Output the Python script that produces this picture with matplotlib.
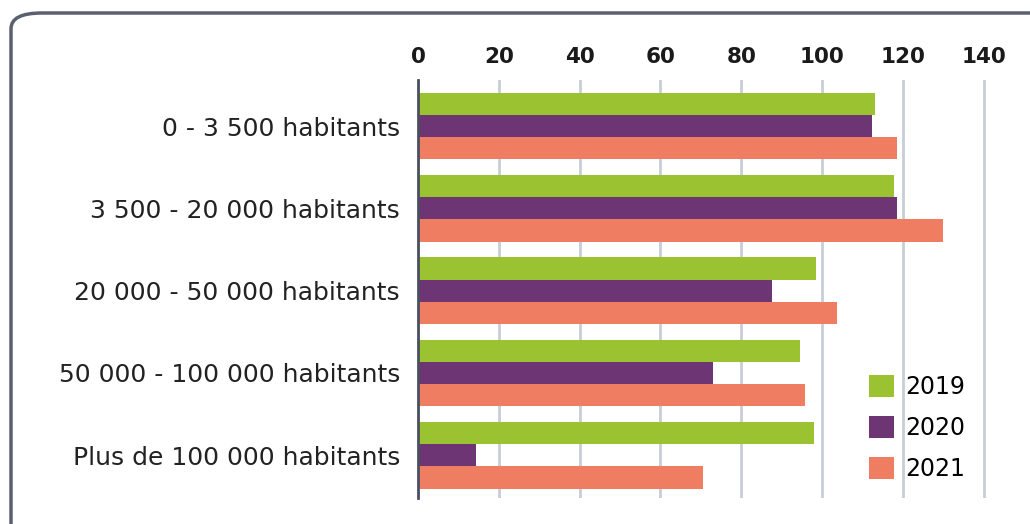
import matplotlib
matplotlib.use("Agg")
import matplotlib.pyplot as plt
from matplotlib.patches import FancyBboxPatch, Patch
import numpy as np

categories = ["0 - 3 500 habitants", "3 500 - 20 000 habitants", "20 000 - 50 000 habitants",
              "50 000 - 100 000 habitants", "Plus de 100 000 habitants"]
series_names = ["2019", "2020", "2021"]
v2019 = [113.1, 117.8, 98.5, 94.6, 98.0]
v2020 = [112.3, 118.6, 87.7, 73.0, 14.3]
v2021 = [118.6, 129.9, 103.8, 95.7, 70.4]
xticks = [0, 20, 40, 60, 80, 100, 120, 140]

colors = ["#9bc230", "#6e3575", "#ef7d62"]
plt.rcParams['font.family'] = ['DejaVu Sans']

fig = plt.figure(figsize=(10.30, 5.24), dpi=100)
W, H = 1030, 524
ax = fig.add_axes([418 / W, 1 - 498 / H, (1004 - 418) / W, (498 - 80) / H])

y = np.arange(len(categories))
bh = 0.27
for i, (vals, c, name) in enumerate(zip([v2019, v2020, v2021], colors, series_names)):
    ax.barh(y + (i - 1) * bh, vals, height=bh, color=c, label=name, zorder=3)

ax.set_xlim(0, 145)
ax.set_ylim(4.52, -0.56)
ax.set_yticks(y)
ax.set_yticklabels(categories, fontsize=18, color="#222222")
ax.set_xticks(xticks)
ax.xaxis.tick_top()
ax.set_xticklabels([str(t) for t in xticks], fontsize=15.5, fontweight="bold", color="#1a1a1a")
ax.tick_params(axis="x", length=0, pad=9)
ax.tick_params(axis="y", length=0, pad=13)
ax.grid(axis="x", color="#c9cdd6", linewidth=2, zorder=0)
for s in ["top", "right", "bottom"]:
    ax.spines[s].set_visible(False)
ax.spines["left"].set_color("#4a5060")
ax.spines["left"].set_linewidth(2)
ax.spines["left"].set_zorder(4)

handles = [Patch(facecolor=c, edgecolor="none") for c in colors]
fig.legend(handles, series_names, loc="upper left", bbox_to_anchor=(860 / W, 1 - 366 / H),
           frameon=False, fontsize=17, handlelength=1.05, handleheight=1.05,
           handletextpad=0.45, labelspacing=0.72, borderaxespad=0)

box = FancyBboxPatch((11 / W, -0.2), 1.3, 1 - 13 / H + 0.2, transform=fig.transFigure,
                     boxstyle="round,pad=0,rounding_size=0.03", facecolor="none",
                     edgecolor="#5a6070", linewidth=2.5, clip_on=False)
fig.patches.append(box)

fig.savefig("out.png", dpi=100)
